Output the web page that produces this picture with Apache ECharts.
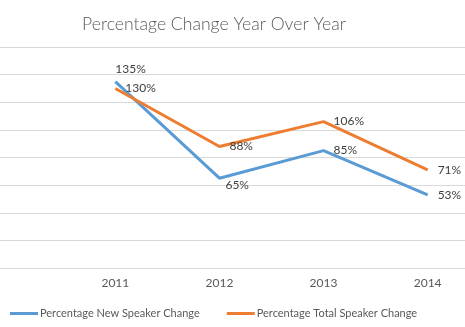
<!DOCTYPE html>
<html><head><meta charset="utf-8">
<script src="https://cdn.jsdelivr.net/npm/echarts@6/dist/echarts.min.js"></script>
<style>html,body{margin:0;padding:0;background:#fff}#c{width:465px;height:327px}</style>
</head><body><div id="c"></div>
<script>
var years = [2011, 2012, 2013, 2014];
var newSpeaker = [135, 65, 85, 53];
var totalSpeaker = [130, 88, 106, 71];
var seriesNames = ['Percentage New Speaker Change', 'Percentage Total Speaker Change'];
var yTicks = [0, 20, 40, 60, 80, 100, 120, 140, 160];

var FONT = 'Lato';
function build(vals, overrides) {
  return vals.map(function (v, i) {
    var item = { value: [years[i], v] };
    if (overrides[i]) item.label = overrides[i];
    return item;
  });
}
var blueOv = {
  0: { distance: 0, offset: [0, -12.5] },
  1: { distance: 6, offset: [0, 7] }
};
var chart = echarts.init(document.getElementById('c'), null, { renderer: 'canvas' });
var labelBase = {
  show: true, position: 'right', distance: 10, color: '#404040',
  fontFamily: FONT, fontSize: 12, formatter: function (p) { return p.value[1] + '%'; }
};
chart.setOption({
  animation: false,
  backgroundColor: '#ffffff',
  title: {
    text: 'Percentage Change Year Over Year', left: 209, top: 10, textAlign: 'center',
    textStyle: { fontFamily: FONT, fontWeight: 300, fontSize: 17.6, color: '#595959' }
  },
  grid: { left: 0, right: 0, top: 47, bottom: 59 },
  legend: {
    left: 5, top: 303, icon: 'rect', itemWidth: 28, itemHeight: 3, itemGap: 27,
    textStyle: { fontFamily: FONT, fontSize: 11, color: '#595959', padding: [0, 0, 0, -3] },
    data: seriesNames
  },
  xAxis: {
    type: 'value', min: 2009.892, max: 2014.359,
    axisLine: { show: true, lineStyle: { color: '#d9d9d9', width: 1 } },
    axisTick: { show: false },
    splitLine: { show: false },
    axisLabel: {
      customValues: years, formatter: function (v) { return String(v); },
      color: '#595959', fontFamily: FONT, fontSize: 12, margin: 9
    }
  },
  yAxis: {
    type: 'value', min: yTicks[0], max: yTicks[yTicks.length - 1], interval: 20,
    axisLabel: { show: false }, axisLine: { show: false }, axisTick: { show: false },
    splitLine: { lineStyle: { color: '#d9d9d9', width: 1 } }
  },
  series: [
    {
      name: seriesNames[0], type: 'line', data: build(newSpeaker, blueOv),
      symbol: 'circle', symbolSize: 0, showSymbol: true,
      lineStyle: { color: '#5B9BD5', width: 3 }, itemStyle: { color: '#5B9BD5' },
      label: labelBase, emphasis: { disabled: true }
    },
    {
      name: seriesNames[1], type: 'line', data: build(totalSpeaker, {}),
      symbol: 'circle', symbolSize: 0, showSymbol: true,
      lineStyle: { color: '#ED7D31', width: 3 }, itemStyle: { color: '#ED7D31' },
      label: labelBase, emphasis: { disabled: true }
    }
  ]
});
</script></body></html>
